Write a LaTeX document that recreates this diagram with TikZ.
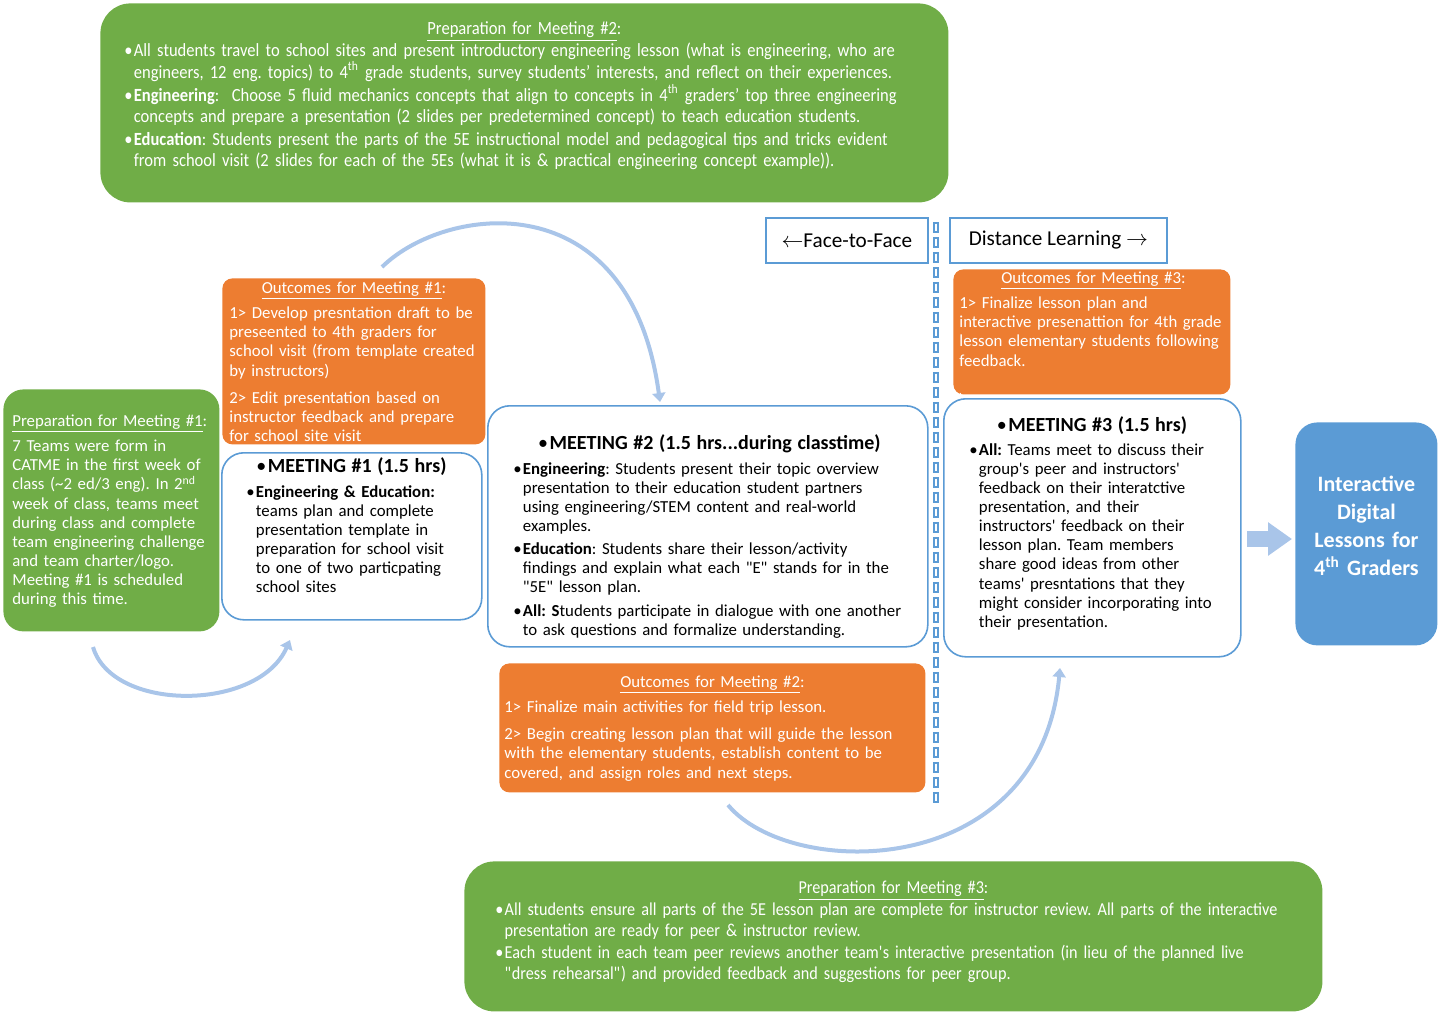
\documentclass[tikz,border=0pt]{standalone}
\usepackage{fontspec}
\setmainfont{Carlito}
\newfontfamily\condfont{Carlito}[FakeStretch=0.89]
\usetikzlibrary{arrows.meta,positioning,calc}

\definecolor{prepgreen}{HTML}{70AD47}
\definecolor{outorange}{HTML}{ED7D31}
\definecolor{meetblue}{HTML}{5B9BD5}
\definecolor{flowblue}{HTML}{A9C5E9}

% bullet with hanging lines
\newlength\bhang
\newcommand{\bitem}[1]{\par\settowidth\bhang{\textbullet\hspace{0.6pt}}\hangindent=\bhang\hangafter=1\noindent\makebox[\bhang][l]{\textbullet}#1\par}
\newcommand{\ptitle}[1]{{\centering\underline{#1}:\par}}
\newcommand{\mtitle}[1]{{\centering\fontsize{10}{12}\selectfont\textbullet\hspace{0.8pt}\textbf{#1}\par}}
\frenchspacing

\tikzset{
  greenbox/.style={fill=prepgreen, rounded corners=12pt, anchor=north west, inner sep=0pt},
  orangebox/.style={fill=outorange, rounded corners=5pt, anchor=north west, inner sep=0pt},
  meetbox/.style={draw=meetblue, line width=0.8pt, fill=white, rounded corners=11pt, anchor=north west, inner sep=0pt},
  modebox/.style={draw=meetblue, line width=0.9pt, fill=white, anchor=north west, inner sep=0pt, font=\fontsize{10.6}{12}\selectfont},
  lessonbox/.style={fill=meetblue, rounded corners=11pt, anchor=north west, inner sep=0pt, align=center, text=white, font=\fontsize{11}{14}\selectfont\bfseries},
  txt/.style={anchor=north west, inner sep=0pt, align=left, font=\fontsize{8.4}{9.55}\selectfont},
  wtxt/.style={txt, text=white},
  condtxt/.style={txt, text=white, font=\condfont\fontsize{9.3}{10.75}\selectfont},
  flowarc/.style={draw=flowblue, line width=2pt, -{Triangle[length=4.5pt,width=6.5pt]}},
  sepouter/.style={draw=meetblue, line width=3pt, dash pattern=on 5.5pt off 2pt},
  sepinner/.style={draw=white, line width=1.1pt, dash pattern=on 3.9pt off 3.6pt, dash phase=-0.8pt}
}

\begin{document}
\begin{tikzpicture}[x=0.5pt,y=-0.5pt]
  \useasboundingbox (0,0) rectangle (1440,1014);

  % boxes
  \node[greenbox, rounded corners=15pt, minimum width=424pt, minimum height=99.5pt] (prepB) at (100,3) {};
  \node[greenbox, rounded corners=10pt, minimum width=108pt, minimum height=121pt] (prepA) at (3,389) {};
  \node[orangebox, minimum width=131.5pt, minimum height=83pt] (outA) at (222,278) {};
  \node[meetbox, minimum width=130pt, minimum height=83.5pt] (meetA) at (221,452) {};
  \node[meetbox, minimum width=220pt, minimum height=120.5pt] (meetB) at (487,405) {};
  \node[orangebox, minimum width=213pt, minimum height=64.5pt] (outB) at (499,663) {};
  \node[orangebox, minimum width=138.5pt, minimum height=62.5pt] (outC) at (953,269) {};
  \node[meetbox, minimum width=148.5pt, minimum height=129pt] (meetC) at (943,398) {};
  \node[greenbox, rounded corners=15pt, minimum width=429pt, minimum height=75pt] (prepC) at (464,861) {};
  \node[lessonbox, text width=68pt, minimum width=71pt, minimum height=111.5pt] (lessons) at (1295,422)
    {Interactive\\Digital\\Lessons for\\4\textsuperscript{th} Graders\par\vspace{8pt}};
  \node[modebox, minimum width=81pt, minimum height=22.5pt] (f2f) at (765,217) {$\leftarrow$Face-to-Face};
  \node[modebox, minimum width=108.5pt, minimum height=22.5pt] (dist) at (949,217) {Distance Learning $\rightarrow$};

  % separator
  \coordinate (sepT) at (936,222);
  \coordinate (sepB) at (936,803);
  \draw[sepouter] (sepT) -- (sepB);
  \draw[sepinner] (sepT) -- (sepB);

  % texts
  \node[condtxt, text width=400pt] (prepBtxt) at (124,21) {%
    \ptitle{Preparation for Meeting \#2}\setlength{\parskip}{0.6pt}%
    \bitem{All students travel to school sites and present introductory engineering lesson (what is engineering, who are\newline engineers, 12 eng. topics) to 4\textsuperscript{th} grade students, survey students’ interests, and reflect on their experiences.}%
    \bitem{\textbf{Engineering}:\ \ Choose 5 fluid mechanics concepts that align to concepts in 4\textsuperscript{th} graders’ top three engineering\newline concepts and prepare a presentation (2 slides per predetermined concept) to teach education students.}%
    \bitem{\textbf{Education}: Students present the parts of the 5E instructional model and pedagogical tips and tricks evident\newline from school visit (2 slides for each of the 5Es (what it is \& practical engineering concept example)).}};

  \node[wtxt, text width=102pt] (prepAtxt) at (12,414) {%
    \underline{Preparation for Meeting \#1}:\par\vspace{3.3pt}%
    7 Teams were form in\newline CATME in the first week of\newline class (\textasciitilde 2 ed/3 eng). In 2\textsuperscript{nd}\newline week of class, teams meet\newline during class and complete\newline team engineering challenge\newline and team charter/logo.\newline Meeting \#1 is scheduled\newline during this time.};

  \node[wtxt, text width=124.5pt] (outAtxt) at (229,281) {%
    \ptitle{Outcomes for Meeting \#1}\vspace{3.3pt}%
    1> Develop presntation draft to be\newline preseented to 4th graders for\newline school visit (from template created\newline by instructors)\par\vspace{4pt}%
    2> Edit presentation based on\newline instructor feedback and prepare\newline for school site visit};

  \node[txt, text width=105pt] (meetAtxt) at (246,457) {%
    \mtitle{MEETING \#1 (1.5 hrs)}\vspace{3pt}%
    \bitem{\textbf{Engineering \& Education:}\newline teams plan and complete\newline presentation template in\newline preparation for school visit\newline to one of two particpating\newline school sites}};

  \node[txt, text width=196pt] (meetBtxt) at (513,434) {%
    \mtitle{MEETING \#2 (1.5 hrs...during classtime)}\vspace{1pt}\setlength{\parskip}{2pt}%
    \bitem{\textbf{Engineering}: Students present their topic overview\newline presentation to their education student partners\newline using engineering/STEM content and real-world\newline examples.}%
    \bitem{\textbf{Education}: Students share their lesson/activity\newline findings and explain what each \textquotedbl E\textquotedbl\ stands for in the\newline \textquotedbl 5E\textquotedbl\ lesson plan.}%
    \bitem{\textbf{All: S}tudents participate in dialogue with one another\newline to ask questions and formalize understanding.}};

  \node[wtxt, text width=208pt] (outBtxt) at (504,675) {%
    \ptitle{Outcomes for Meeting \#2}\vspace{3.3pt}%
    1> Finalize main activities for field trip lesson.\par\vspace{4pt}%
    2> Begin creating lesson plan that will guide the lesson\newline with the elementary students, establish content to be\newline covered, and assign roles and next steps.};

  \node[wtxt, text width=134pt] (outCtxt) at (959,271) {%
    \ptitle{Outcomes for Meeting \#3}\vspace{3.3pt}%
    1> Finalize lesson plan and\newline interactive presenattion for 4th grade\newline lesson elementary students following\newline feedback.\par\vspace{4.5pt}%
    {\fontsize{5}{6}\selectfont .}};

  \node[txt, text width=122.5pt] (meetCtxt) at (969,416) {%
    \mtitle{MEETING \#3 (1.5 hrs)}\vspace{2.5pt}%
    \bitem{\textbf{All:} Teams meet to discuss their\newline group\textquotesingle s peer and instructors\textquotesingle\newline feedback on their interatctive\newline presentation, and their\newline instructors\textquotesingle\ feedback on their\newline lesson plan. Team members\newline share good ideas from other\newline teams\textquotesingle\ presntations that they\newline might consider incorporating into\newline their presentation.}};

  \node[condtxt, font=\condfont\fontsize{9.1}{10.5}\selectfont, text width=398pt] (prepCtxt) at (495,880) {%
    \ptitle{Preparation for Meeting \#3}\setlength{\parskip}{0.5pt}%
    \bitem{All students ensure all parts of the 5E lesson plan are complete for instructor review. All parts of the interactive\newline presentation are ready for peer \& instructor review.}%
    \bitem{Each student in each team peer reviews another team\textquotesingle s interactive presentation (in lieu of the planned live\newline \textquotedbl dress rehearsal\textquotedbl) and provided feedback and suggestions for peer group.}};

  % flow arcs
  \coordinate (arcAs) at (93,647);
  \coordinate (arcAe) at (290,640);
  \coordinate (arcBs) at (382,267);
  \coordinate (arcBe) at (660,402);
  \coordinate (arcCs) at (728,805);
  \coordinate (arcCe) at (1060,668);
  \draw[flowarc] (arcAs) .. controls (112,712) and (258,712) .. (arcAe);
  \draw[flowarc] (arcBs) .. controls (445,205) and (630,180) .. (arcBe);
  \draw[flowarc] (arcCs) .. controls (790,880) and (1040,882) .. (arcCe);

  % block arrow to the lessons
  \coordinate (endS) at (1247,539);
  \coordinate (endE) at (1292,539);
  \draw[draw=flowblue, line width=8pt, -{Triangle[length=12pt,width=16pt]}] (endS) -- (endE);
\end{tikzpicture}
\end{document}
